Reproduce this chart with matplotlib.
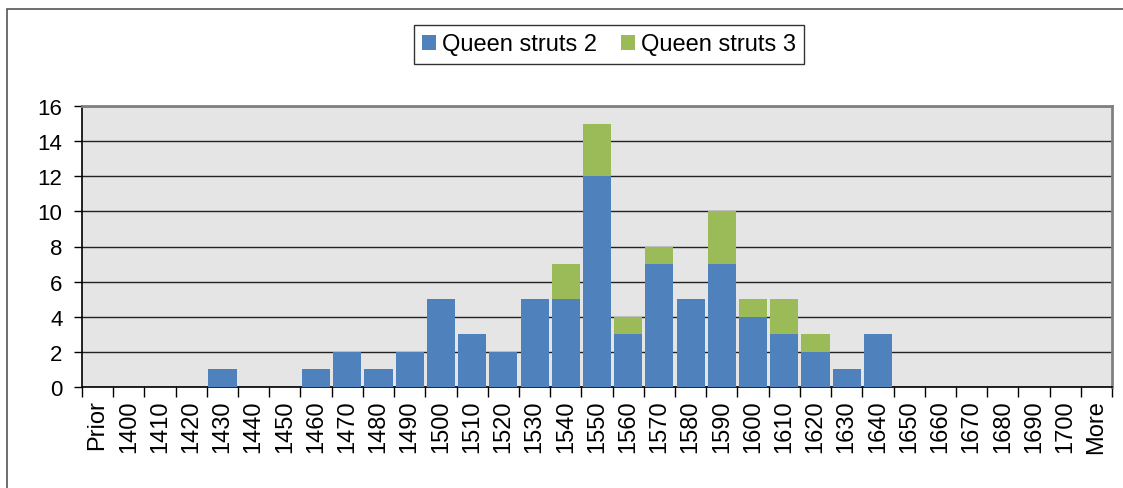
import matplotlib.pyplot as plt
from matplotlib.patches import Rectangle
import numpy as np

plt.rcParams['font.family'] = ['Liberation Sans', 'DejaVu Sans']

# --- Data ---
categories = ["Prior"] + [str(y) for y in range(1400, 1701, 10)] + ["More"]
struts2 = [0, 0, 0, 0, 1, 0, 0, 1, 2, 1, 2, 5, 3, 2, 5, 5, 12, 3, 7, 5, 7, 4, 3, 2, 1, 3,
           0, 0, 0, 0, 0, 0, 0]
struts3 = [0, 0, 0, 0, 0, 0, 0, 0, 0, 0, 0, 0, 0, 0, 0, 2, 3, 1, 1, 0, 3, 1, 2, 1, 0, 0,
           0, 0, 0, 0, 0, 0, 0]

blue = '#4f81bd'
green = '#9bbb59'

fig = plt.figure(figsize=(11.23, 4.89), dpi=100)
ax = fig.add_axes([82 / 1123, 1 - 388 / 489, (1112 - 82) / 1123, (388 - 107) / 489])

x = np.arange(len(categories))
ax.bar(x, struts2, width=0.9, color=blue, linewidth=0,
       label='Queen struts 2', zorder=3)
ax.bar(x, struts3, width=0.9, bottom=struts2, color=green, linewidth=0,
       label='Queen struts 3', zorder=3)

ax.set_facecolor('#e5e5e5')
ax.set_xlim(-0.5, len(categories) - 0.5)
ax.set_ylim(0, 16)
ax.set_yticks(range(0, 17, 2))
ax.grid(True, axis='y', color='#222222', linewidth=1, zorder=1)

# ticks between categories, labels at centers
ax.set_xticks(np.arange(len(categories) + 1) - 0.5)
ax.set_xticklabels([])
ax.set_xticks(x, minor=True)
ax.set_xticklabels(categories, minor=True, rotation=90, fontsize=17)
ax.tick_params(axis='x', which='major', length=7, width=1, color='black', direction='out')
ax.tick_params(axis='x', which='minor', length=0, pad=9)
ax.tick_params(axis='y', length=6, width=1, labelsize=16, pad=8)

ax.spines['left'].set_color('black')
ax.spines['bottom'].set_color('black')
ax.spines['left'].set_linewidth(1.2)
ax.spines['bottom'].set_linewidth(1.2)
ax.spines['top'].set_color('#808080')
ax.spines['right'].set_color('#808080')
ax.spines['top'].set_linewidth(2)
ax.spines['right'].set_linewidth(2)

leg = ax.legend(loc='center', bbox_to_anchor=(609 / 1123, 1 - 45.5 / 489),
                bbox_transform=fig.transFigure, ncol=2, fontsize=17, frameon=True,
                fancybox=False, edgecolor='black', handlelength=0.6, handleheight=0.6,
                handletextpad=0.25, columnspacing=1.0, borderpad=0.35)
leg.get_frame().set_linewidth(1)

# outer chart border
fig.patches.append(Rectangle((7 / 1123, -0.1), 1.2, 1 - 10 / 489 + 0.1,
                             transform=fig.transFigure, fill=False,
                             edgecolor='#555555', linewidth=1.2))

fig.savefig('out.png', dpi=100)
